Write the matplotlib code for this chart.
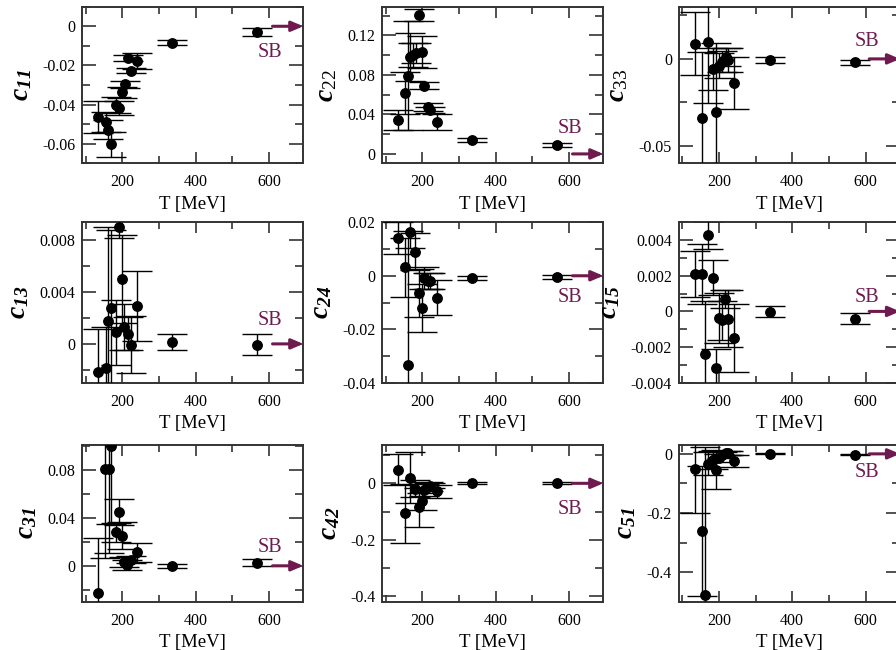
import matplotlib
matplotlib.use("Agg")
import matplotlib.pyplot as plt
from matplotlib.ticker import MultipleLocator, FuncFormatter

plt.rcParams['font.family'] = ['Liberation Serif', 'DejaVu Serif']
plt.rcParams['axes.unicode_minus'] = False
plt.rcParams['mathtext.fontset'] = 'custom'
plt.rcParams['mathtext.rm'] = 'Liberation Serif'
plt.rcParams['mathtext.it'] = 'Liberation Serif:italic'
plt.rcParams['mathtext.bf'] = 'Liberation Serif:bold'
plt.rcParams['mathtext.bfit'] = 'Liberation Serif:italic:bold'

# ---------------- data ----------------
T11 = [135, 155, 162, 170, 183, 192, 199, 207, 215, 224, 241, 337, 567]
c11 = [-0.0464, -0.0490, -0.0528, -0.0603, -0.0403, -0.0419, -0.0338, -0.0297, -0.0164, -0.0226, -0.0179, -0.0083, -0.0028]
e11 = [0.008, 0.005, 0.005, 0.0065, 0.004, 0.0035, 0.003, 0.0017, 0.0015, 0.0015, 0.004, 0.0015, 0.002]

T22 = [135, 154, 161, 167, 175, 183, 190, 199, 206, 215, 222, 240, 336, 567]
c22 = [0.034, 0.0617, 0.0793, 0.0983, 0.100, 0.1024, 0.1403, 0.103, 0.0692, 0.0471, 0.0441, 0.0325, 0.0142, 0.0092]
e22 = [0.010, 0.021, 0.055, 0.024, 0.012, 0.010, 0.006, 0.016, 0.004, 0.004, 0.003, 0.008, 0.002, 0.002]

T33 = [136, 155, 169, 184, 192, 200, 207, 218, 226, 242, 340, 571]
c33 = [0.0087, -0.034, 0.0096, -0.0058, -0.0308, -0.0038, -0.0015, 0.0012, -0.0008, -0.014, -0.0006, -0.0019]
e33 = [0.018, 0.038, 0.035, 0.012, 0.040, 0.007, 0.006, 0.005, 0.007, 0.015, 0.0015, 0.0015]

T13 = [135, 155, 162, 169, 184, 192, 199, 206, 215, 224, 241, 337, 567]
c13 = [-0.00214, -0.0019, 0.0018, 0.0028, 0.0009, 0.0090, 0.0050, 0.0013, 0.0008, -0.00005, 0.0029, 0.00015, -0.00005]
e13 = [0.0033, 0.0032, 0.0072, 0.006, 0.0025, 0.0008, 0.0034, 0.0018, 0.0013, 0.0022, 0.0027, 0.0006, 0.0008]

T24 = [135, 154, 161, 167, 181, 190, 199, 206, 215, 222, 240, 336, 567]
c24 = [0.0142, 0.0031, -0.0334, 0.0165, 0.0090, -0.0064, -0.0121, -0.0008, -0.0018, -0.0021, -0.0082, -0.0009, -0.0005]
e24 = [0.006, 0.011, 0.05, 0.006, 0.007, 0.009, 0.009, 0.004, 0.003, 0.003, 0.0065, 0.0008, 0.0008]

T15 = [135, 155, 162, 169, 184, 192, 200, 207, 216, 226, 242, 340, 571]
c15 = [0.0021, 0.0021, -0.0024, 0.0043, 0.0019, -0.0032, -0.00035, -0.0005, 0.0007, -0.0004, -0.0015, -0.00002, -0.0004]
e15 = [0.0013, 0.0017, 0.003, 0.0008, 0.001, 0.0011, 0.0014, 0.0011, 0.0005, 0.0016, 0.0019, 0.0003, 0.0003]

T31 = [135, 154, 163, 169, 183, 191, 200, 206, 214, 223, 240, 336, 567]
c31 = [-0.0227, 0.0808, 0.0808, 0.0999, 0.0281, 0.0449, 0.0253, 0.0030, 0.0006, 0.0050, 0.0112, 0.0, 0.0025]
e31 = [0.046, 0.074, 0.07, 0.065, 0.008, 0.011, 0.011, 0.004, 0.004, 0.003, 0.008, 0.0015, 0.003]

T42 = [135, 154, 167, 181, 190, 199, 206, 215, 222, 240, 336, 567]
c42 = [0.0475, -0.107, 0.020, -0.019, -0.085, -0.063, -0.024, -0.012, -0.008, -0.028, 0.0, 0.0]
e42 = [0.055, 0.105, 0.09, 0.03, 0.07, 0.03, 0.02, 0.015, 0.01, 0.023, 0.003, 0.003]

T51 = [136, 155, 162, 169, 184, 192, 200, 207, 218, 226, 242, 340, 571]
c51 = [-0.05, -0.261, -0.477, -0.033, -0.020, -0.053, -0.014, -0.005, 0.003, 0.003, -0.023, 0.0, -0.003]
e51 = [0.15, 0.22, 0.5, 0.04, 0.03, 0.065, 0.015, 0.01, 0.008, 0.008, 0.02, 0.002, 0.002]

labels = [r'$\mathbfit{c}_{\mathbfit{11}}$', r'$\mathbfit{c}_{\mathrm{22}}$', r'$\mathbfit{c}_{\mathrm{33}}$',
          r'$\mathbfit{c}_{\mathbfit{13}}$', r'$\mathbfit{c}_{\mathbfit{24}}$', r'$\mathbfit{c}_{\mathbfit{15}}$',
          r'$\mathbfit{c}_{\mathbfit{31}}$', r'$\mathbfit{c}_{\mathbfit{42}}$', r'$\mathbfit{c}_{\mathbfit{51}}$']
ylims = [(-0.07, 0.01), (-0.0095, 0.149), (-0.06, 0.03),
         (-0.003, 0.0094), (-0.04, 0.02), (-0.004, 0.005),
         (-0.03, 0.101), (-0.42, 0.136), (-0.5, 0.03)]
ymajor = [0.02, 0.04, 0.05, 0.004, 0.02, 0.002, 0.04, 0.2, 0.2]
sb_y = [-0.0134, 0.026, 0.0102, 0.0018, -0.008, 0.0008, 0.0157, -0.093, -0.0625]

panels = [(T11, c11, e11), (T22, c22, e22), (T33, c33, e33),
          (T13, c13, e13), (T24, c24, e24), (T15, c15, e15),
          (T31, c31, e31), (T42, c42, e42), (T51, c51, e51)]

SB_COLOR = '#6e1a4f'
W, H = 896, 650
cols = [(82.3, 303.3), (382.3, 603.3), (679.0, 900.0)]
rows = [(6.7, 163.3), (222.3, 382.7), (445.0, 601.7)]

fig = plt.figure(figsize=(W / 100, H / 100), dpi=100)

def fmt(v, pos):
    if abs(v) < 1e-12:
        return '0'
    return '%g' % v

for i, (T, c, e) in enumerate(panels):
    r, k = divmod(i, 3)
    x0, x1 = cols[k]
    y0, y1 = rows[r]
    ax = fig.add_axes([x0 / W, 1 - y1 / H, (x1 - x0) / W, (y1 - y0) / H])
    ax.errorbar(T, c, yerr=e, fmt='o', color='black', ms=6.8, elinewidth=1.0,
                capsize=11, capthick=1.0, zorder=3)
    ax.set_xlim(91, 694)
    ax.set_ylim(*ylims[i])
    ax.xaxis.set_major_locator(MultipleLocator(200))
    ax.xaxis.set_minor_locator(MultipleLocator(100))
    ax.yaxis.set_major_locator(MultipleLocator(ymajor[i]))
    ax.yaxis.set_minor_locator(MultipleLocator(ymajor[i] / 2))
    ax.yaxis.set_major_formatter(FuncFormatter(fmt))
    ax.tick_params(which='both', direction='in', top=True, right=True, labelsize=11.5, width=1.2, color='#333333')
    ax.tick_params(which='major', axis='y', length=10)
    ax.tick_params(which='minor', axis='y', length=6)
    ax.tick_params(which='major', axis='x', length=8)
    ax.tick_params(which='minor', axis='x', length=5)
    ax.tick_params(axis='x', pad=8)
    ax.tick_params(axis='y', pad=5)
    for s in ax.spines.values():
        s.set_linewidth(1.4)
        s.set_color('#333333')
    ax.set_xlabel('T [MeV]', fontsize=13.5, labelpad=4)
    ax.set_ylabel(labels[i], fontsize=20, labelpad=6)
    ax.annotate('', xy=(694, 0), xytext=(610, 0), annotation_clip=False,
                arrowprops=dict(arrowstyle='-|>,head_width=0.3,head_length=0.7',
                                lw=2.2, color=SB_COLOR, shrinkA=0, shrinkB=0))
    ax.text(603, sb_y[i], 'SB', color=SB_COLOR, fontsize=14.5, ha='center', va='center')

fig.savefig('out.png', dpi=100)
